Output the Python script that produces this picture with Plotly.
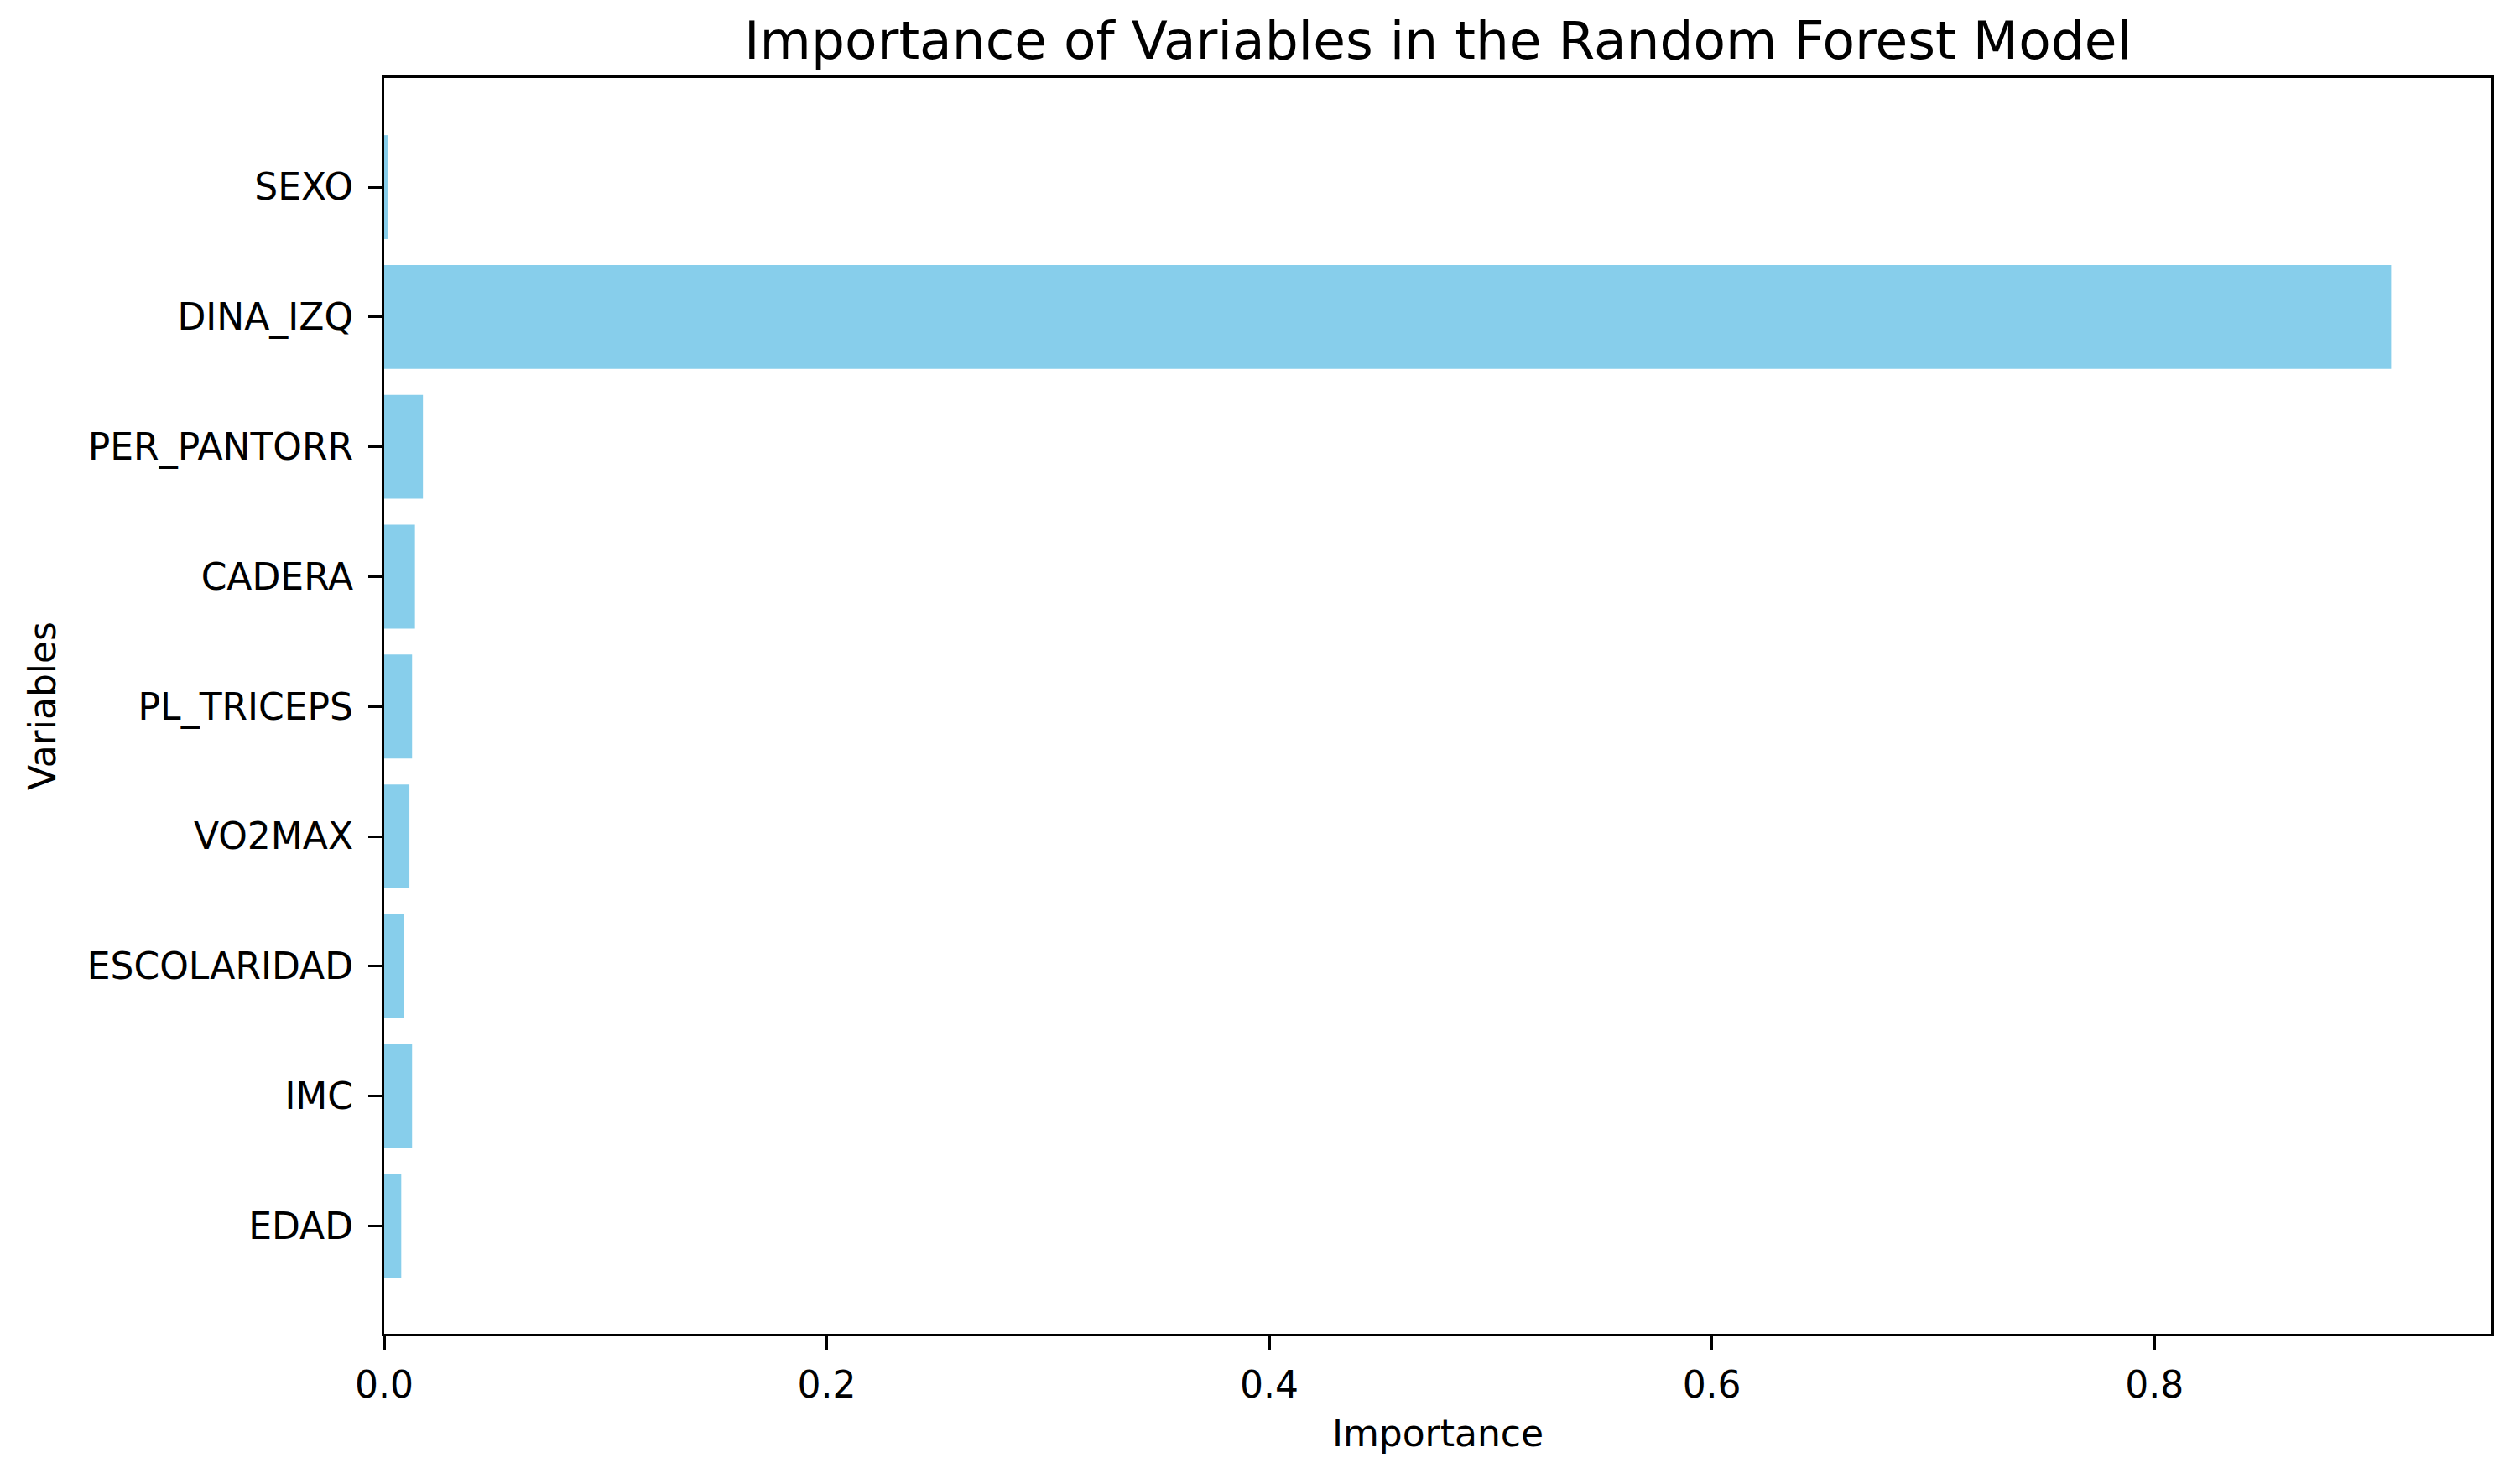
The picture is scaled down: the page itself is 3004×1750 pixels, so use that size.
import plotly.graph_objects as go

features = ["EDAD", "IMC", "ESCOLARIDAD", "VO2MAX", "PL_TRICEPS",
            "CADERA", "PER_PANTORR", "DINA_IZQ", "SEXO"]
importance = [0.0077, 0.0126, 0.0088, 0.0114, 0.0126,
              0.0139, 0.0175, 0.907, 0.0015]
x_ticks = [0.0, 0.2, 0.4, 0.6, 0.8]
x_tick_labels = ["0.0", "0.2", "0.4", "0.6", "0.8"]

FONT = "DejaVu Sans"
TICK_SIZE = 44
TITLE_SIZE = 63

L, R, T, B = 450, 42, 85, 168

fig = go.Figure(go.Bar(
    x=importance, y=features, orientation="h",
    marker=dict(color="#87CEEB", line=dict(width=0)),
))

fig.update_layout(
    width=3004, height=1750,
    paper_bgcolor="white", plot_bgcolor="white",
    margin=dict(l=L, r=R, t=T, b=B),
    bargap=0.2,
    showlegend=False,
    font=dict(family=FONT, size=TICK_SIZE, color="black"),
    title=dict(text="Importance of Variables in the Random Forest Model",
               x=(L + 3004 - R) / 2 / 3004, xanchor="center",
               y=1 - 40 / 1750, yanchor="middle",
               font=dict(family=FONT, size=TITLE_SIZE, color="black")),
)

fig.update_xaxes(
    range=[0, max(importance) * 1.05],
    tickvals=x_ticks, ticktext=x_tick_labels,
    showgrid=False, zeroline=False,
    showline=True, linecolor="black", linewidth=3.3, mirror=True,
    ticks="outside", ticklen=16, tickwidth=3.3, tickcolor="black",
    ticklabelstandoff=4,
    tickfont=dict(family=FONT, size=TICK_SIZE, color="black"),
    title=dict(text="Importance", standoff=19,
               font=dict(family=FONT, size=TICK_SIZE, color="black")),
)

fig.update_yaxes(
    type="category", categoryorder="array", categoryarray=features,
    range=[-0.83, 8.84],
    showgrid=False, zeroline=False,
    showline=True, linecolor="black", linewidth=3.3, mirror=True,
    ticks="outside", ticklen=16, tickwidth=3.3, tickcolor="black",
    ticklabelstandoff=9,
    tickfont=dict(family=FONT, size=TICK_SIZE, color="black"),
    title=dict(text="Variables", standoff=24,
               font=dict(family=FONT, size=TICK_SIZE, color="black")),
)

fig.write_html("out.html")
